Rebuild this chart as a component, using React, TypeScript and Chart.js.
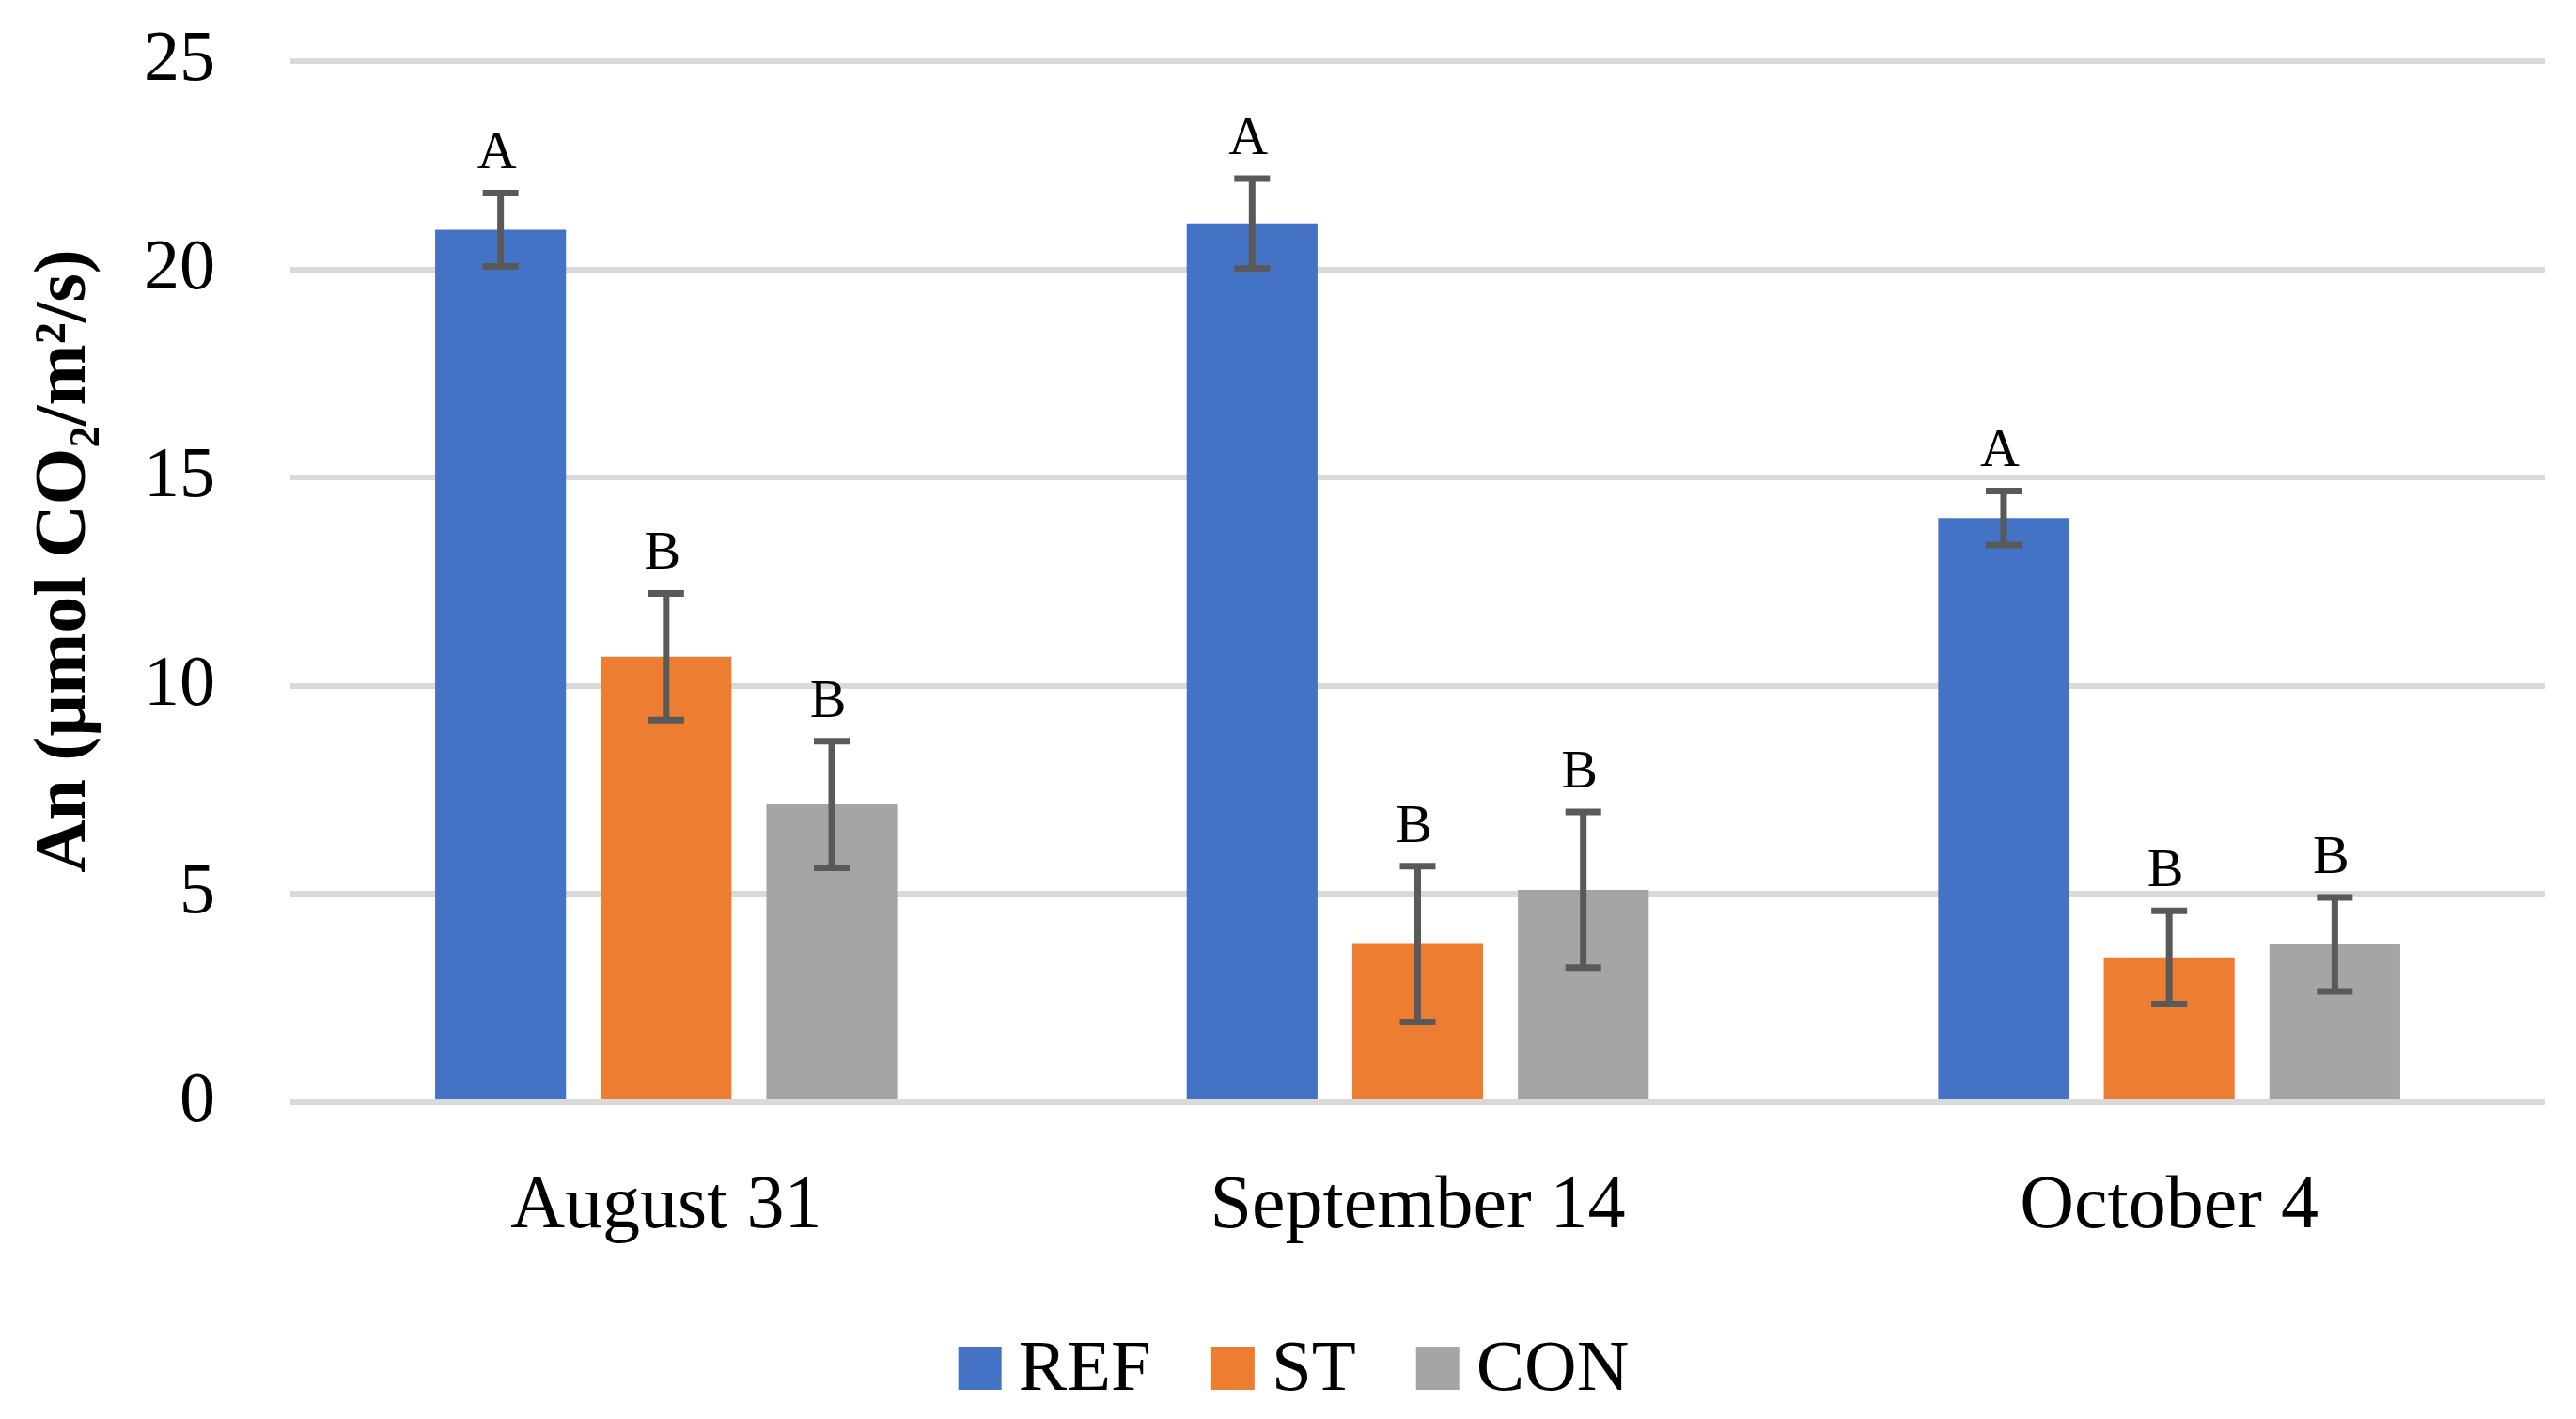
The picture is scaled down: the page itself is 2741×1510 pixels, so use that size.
import { useEffect, useRef } from "react"
import { Chart, registerables } from "chart.js"

Chart.register(...registerables)

const categories = ["August 31", "September 14", "October 4"]
const seriesNames = ["REF", "ST", "CON"]
const seriesColors = ["#4472C4", "#ED7D31", "#A5A5A5"]

const refValues = [20.95, 21.1, 14.03]
const stValues = [10.7, 3.8, 3.48]
const conValues = [7.15, 5.1, 3.79]

const refErrors = [0.88, 1.08, 0.65]
const stErrors = [1.52, 1.87, 1.12]
const conErrors = [1.52, 1.87, 1.13]

const refLetters = ["A", "A", "A"]
const stLetters = ["B", "B", "B"]
const conLetters = ["B", "B", "B"]

const yTicks = [0, 5, 10, 15, 20, 25]
const yTitle = "An (µmol CO₂/m²/s)"

const FONT = "'Liberation Serif', 'Times New Roman', serif"

const errorBarPlugin = {
  id: "errorBars",
  afterDatasetsDraw(chart: any) {
    const { ctx } = chart
    const y = chart.scales.y
    chart.data.datasets.forEach((ds: any, di: number) => {
      const meta = chart.getDatasetMeta(di)
      meta.data.forEach((bar: any, i: number) => {
        const v = ds.data[i]
        const e = ds.errors[i]
        const top = y.getPixelForValue(v + e)
        const bottom = y.getPixelForValue(v - e)
        const x = bar.x
        ctx.save()
        ctx.strokeStyle = "#595959"
        ctx.lineWidth = 7
        ctx.beginPath()
        ctx.moveTo(x, top)
        ctx.lineTo(x, bottom)
        ctx.moveTo(x - 19, top)
        ctx.lineTo(x + 19, top)
        ctx.moveTo(x - 19, bottom)
        ctx.lineTo(x + 19, bottom)
        ctx.stroke()

        // significance letter above the error bar
        ctx.fillStyle = "#000"
        ctx.font = `58px ${FONT}`
        ctx.textAlign = "center"
        ctx.textBaseline = "alphabetic"
        ctx.fillText(ds.letters[i], x - 4, top - 26)
        ctx.restore()
      })
    })
  },
}

// legend and y title drawn by hand so their spacing matches the original
const extrasPlugin = {
  id: "extras",
  afterDraw(chart: any) {
    const { ctx, width } = chart
    ctx.save()
    ctx.translate(70, 597)
    ctx.rotate(-Math.PI / 2)
    ctx.font = `bold 78px ${FONT}`
    ctx.fillStyle = "#000"
    ctx.textAlign = "center"
    ctx.textBaseline = "middle"
    ctx.fillText(yTitle, 0, 0)
    ctx.restore()

    ctx.save()
    const box = 46
    const gapText = 18
    const gapItem = 64
    const cy = 1456
    ctx.font = `77px ${FONT}`
    ctx.textBaseline = "middle"
    ctx.textAlign = "left"
    const items = chart.data.datasets.map((ds: any) => ({
      label: ds.label,
      color: ds.backgroundColor,
      w: ctx.measureText(ds.label).width,
    }))
    const total = items.reduce((s: number, it: any) => s + box + gapText + it.w, 0) + gapItem * (items.length - 1)
    let x = width / 2 - total / 2 + 6
    items.forEach((it: any) => {
      ctx.fillStyle = it.color
      ctx.fillRect(x, cy - box / 2, box, box)
      ctx.fillStyle = "#000"
      ctx.fillText(it.label, x + box + gapText, cy + 3)
      x += box + gapText + it.w + gapItem
    })
    ctx.restore()
  },
}

export default function App() {
  const chartRef = useRef<HTMLCanvasElement>(null)
  const chartInstance = useRef<Chart | null>(null)

  useEffect(() => {
    if (!chartRef.current) return
    if (chartInstance.current) chartInstance.current.destroy()

    const values = [refValues, stValues, conValues]
    const errors = [refErrors, stErrors, conErrors]
    const letters = [refLetters, stLetters, conLetters]

    chartInstance.current = new Chart(chartRef.current, {
      type: "bar",
      data: {
        labels: categories,
        datasets: seriesNames.map((name, k) => ({
          label: name,
          data: values[k],
          errors: errors[k],
          letters: letters[k],
          backgroundColor: seriesColors[k],
          borderWidth: 0,
          barPercentage: 0.79,
          categoryPercentage: 0.661,
        })) as any,
      },
      options: {
        animation: false,
        responsive: true,
        maintainAspectRatio: false,
        layout: {
          padding: { top: 65, right: 33, left: 0, bottom: 0 },
        },
        scales: {
          x: {
            grid: { display: false },
            border: { display: false },
            afterFit: (scale: any) => {
              scale.height = 337
            },
            ticks: {
              color: "#000",
              padding: 56,
              font: { family: FONT, size: 80 },
            },
          },
          y: {
            min: 0,
            max: 25,
            afterBuildTicks: (scale: any) => {
              scale.ticks = yTicks.map((v) => ({ value: v }))
            },
            afterFit: (scale: any) => {
              scale.width = 309
              scale.paddingTop = 0
              scale.paddingBottom = 0
            },
            grid: { color: "#D9D9D9", lineWidth: 6, drawTicks: false },
            border: { display: false },
            ticks: {
              color: "#000",
              padding: 80,
              font: { family: FONT, size: 76 },
            },
          },
        },
        plugins: {
          legend: { display: false },
          tooltip: { enabled: false },
        },
      },
      plugins: [errorBarPlugin, extrasPlugin],
    })

    return () => {
      if (chartInstance.current) {
        chartInstance.current.destroy()
        chartInstance.current = null
      }
    }
  }, [])

  return (
    <div style={{ position: "fixed", left: 0, top: 0, width: "100vw", height: "100vh", background: "#fff" }}>
      <canvas ref={chartRef} />
    </div>
  )
}
